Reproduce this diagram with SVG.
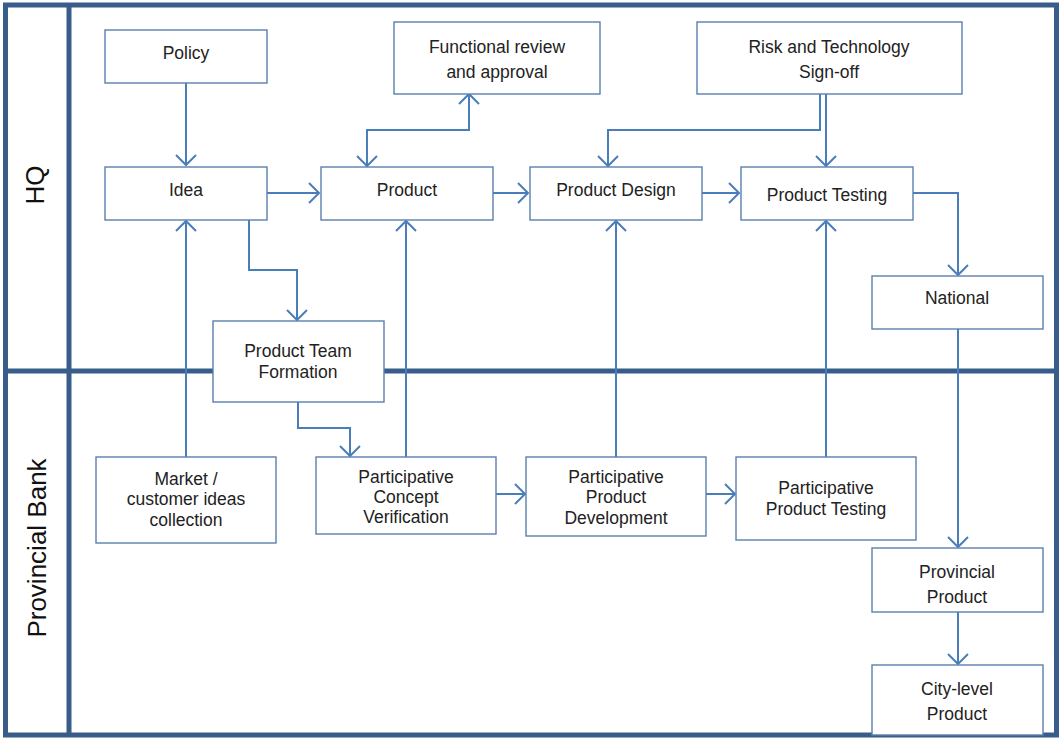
<svg xmlns="http://www.w3.org/2000/svg" width="1062" height="740" viewBox="0 0 1062 740">
<style>
.frame{fill:none;stroke:#385d8a;stroke-width:5}
.box{fill:#fff;stroke:#5a7fae;stroke-width:1.4}
.t{font-family:"Liberation Sans",Arial,sans-serif;font-size:17.5px;fill:#222;text-anchor:middle}
.lane{font-family:"Liberation Sans",Arial,sans-serif;font-size:26px;fill:#111;text-anchor:middle}
.c{fill:none;stroke:#4a7ebb;stroke-width:2;marker-end:url(#a)}
</style>
<defs>
<marker id="a" markerUnits="userSpaceOnUse" markerWidth="24" markerHeight="24" refX="12" refY="12" orient="auto" viewBox="0 0 24 24">
<path d="M2,2 L12,12 L2,22" fill="none" stroke="#4a7ebb" stroke-width="2"/>
</marker>
<marker id="s" markerUnits="userSpaceOnUse" markerWidth="24" markerHeight="24" refX="12" refY="12" orient="auto-start-reverse" viewBox="0 0 24 24">
<path d="M2,2 L12,12 L2,22" fill="none" stroke="#4a7ebb" stroke-width="2"/>
</marker>
</defs>
<rect width="1062" height="740" fill="#fff"/>
<g id="lanes">
<rect class="frame" x="5.5" y="5" width="1051" height="730"/>
<line class="frame" x1="69" y1="5" x2="69" y2="735"/>
<line class="frame" x1="5" y1="371" x2="1057" y2="371"/>
<text class="lane" transform="translate(44,185) rotate(-90)">HQ</text>
<text class="lane" transform="translate(46,548) rotate(-90)">Provincial Bank</text>
</g>
<g id="connectors">
<path class="c" d="M186,83 V165"/>
<path class="c" d="M267,193 H319"/>
<path class="c" d="M493,193 H528"/>
<path class="c" d="M702,193 H739"/>
<path class="c" d="M469,94 V130 H367 V166" style="marker-start:url(#s)"/>
<path class="c" d="M820,94 V130 H608 V166"/>
<path class="c" d="M826,94 V166"/>
<path class="c" d="M913,193 H958 V275"/>
<path class="c" d="M958,329 V547"/>
<path class="c" d="M958,612 V664"/>
<path class="c" d="M249,220 V270 H297 V320"/>
<path class="c" d="M298,402 V428 H350 V456"/>
<path class="c" d="M186,457 V221"/>
<path class="c" d="M406,457 V221"/>
<path class="c" d="M496,494 H525"/>
<path class="c" d="M616,457 V221"/>
<path class="c" d="M706,494 H735"/>
<path class="c" d="M826,457 V221"/>
</g>
<g id="policy"><rect class="box" x="105" y="30" width="162" height="53"/><text class="t" x="186" y="59">Policy</text></g>
<g id="functional"><rect class="box" x="394" y="22" width="206" height="72"/><text class="t" x="497" y="53">Functional review</text><text class="t" x="497" y="78">and approval</text></g>
<g id="risk"><rect class="box" x="697" y="22" width="265" height="72"/><text class="t" x="829" y="53">Risk and Technology</text><text class="t" x="829" y="78">Sign-off</text></g>
<g id="idea"><rect class="box" x="105" y="167" width="162" height="53"/><text class="t" x="186" y="196">Idea</text></g>
<g id="product"><rect class="box" x="321" y="167" width="172" height="53"/><text class="t" x="407" y="196">Product</text></g>
<g id="design"><rect class="box" x="530" y="167" width="172" height="53"/><text class="t" x="616" y="196">Product Design</text></g>
<g id="testing"><rect class="box" x="741" y="167" width="172" height="53"/><text class="t" x="827" y="201">Product Testing</text></g>
<g id="national"><rect class="box" x="872" y="276" width="171" height="53"/><text class="t" x="957" y="304">National</text></g>
<g id="team"><rect class="box" x="213" y="321" width="171" height="81"/><text class="t" x="298" y="357">Product Team</text><text class="t" x="298" y="378">Formation</text></g>
<g id="market"><rect class="box" x="96" y="457" width="180" height="86"/><text class="t" x="186" y="485">Market /</text><text class="t" x="186" y="505">customer ideas</text><text class="t" x="186" y="526">collection</text></g>
<g id="concept"><rect class="box" x="316" y="457" width="180" height="77"/><text class="t" x="406" y="483">Participative</text><text class="t" x="406" y="503">Concept</text><text class="t" x="406" y="523">Verification</text></g>
<g id="development"><rect class="box" x="526" y="457" width="180" height="79"/><text class="t" x="616" y="483">Participative</text><text class="t" x="616" y="503">Product</text><text class="t" x="616" y="524">Development</text></g>
<g id="ptesting"><rect class="box" x="736" y="457" width="180" height="83"/><text class="t" x="826" y="494">Participative</text><text class="t" x="826" y="515">Product Testing</text></g>
<g id="provincial"><rect class="box" x="872" y="548" width="171" height="64"/><text class="t" x="957" y="578">Provincial</text><text class="t" x="957" y="603">Product</text></g>
<g id="city"><rect class="box" x="872" y="665" width="171" height="70"/><text class="t" x="957" y="695">City-level</text><text class="t" x="957" y="720">Product</text></g>
</svg>
